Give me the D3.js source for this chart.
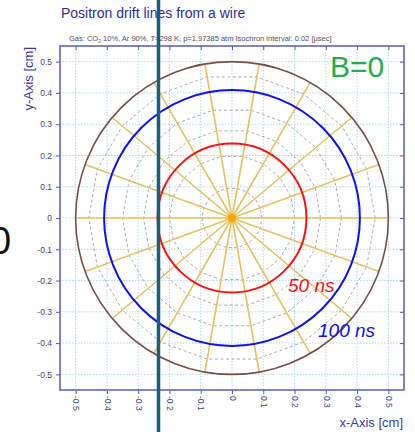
<!DOCTYPE html>
<html lang="en">
<head>
<meta charset="UTF-8">
<title>Positron drift lines from a wire</title>
<script src="https://cdnjs.cloudflare.com/ajax/libs/d3/7.8.5/d3.min.js"></script>
<style>
	body { margin: 0; background: #fff; }
	svg { display: block; font-family: "Liberation Sans", Arial, sans-serif; }
</style>
</head>
<body>
<svg id="viz"></svg>
<script>
// tick values (cm)
const ticks = [-0.5, -0.4, -0.3, -0.2, -0.1, 0, 0.1, 0.2, 0.3, 0.4, 0.5];
// drift line directions (degrees)
const driftAngles = [0, 20, 40, 60, 80, 100, 120, 140, 160, 180, 200, 220, 240, 260, 280, 300, 320, 340];
// isochrons every 20 ns (radius in cm)
const isochronRadii = [0.096, 0.2, 0.283, 0.35, 0.458];
// highlighted isochrons
const markedLabels = ['50 ns', '100 ns'];
const markedRadii = [0.238, 0.409];
const wallRadius = 0.5;

const width = 415, height = 432;
const svg = d3.select('#viz').attr('width', width).attr('height', height);

const x = d3.scaleLinear().domain([-0.55, 0.55]).range([60, 404]);
const y = d3.scaleLinear().domain([-0.55, 0.55]).range([390, 46]);
const k = x(1) - x(0);

const axisColor = '#5a5ab4';
const textColor = '#44447a';

// grid
const grid = svg.append('g');
grid.selectAll('line.gx').data(ticks).join('line')
	.attr('x1', d => x(d)).attr('x2', d => x(d))
	.attr('y1', y(0.55)).attr('y2', y(-0.55))
	.attr('stroke', '#aadbe6').attr('stroke-width', 1).attr('stroke-dasharray', '1.5,1.5');
grid.selectAll('line.gy').data(ticks).join('line')
	.attr('y1', d => y(d)).attr('y2', d => y(d))
	.attr('x1', x(-0.55)).attr('x2', x(0.55))
	.attr('stroke', '#aadbe6').attr('stroke-width', 1).attr('stroke-dasharray', '1.5,1.5');

const cx = x(0), cy = y(0);
const toRad = a => a * Math.PI / 180;

// isochron polygons, vertices on the drift lines
const poly = d3.line().curve(d3.curveLinearClosed);
svg.append('g').selectAll('path').data(isochronRadii).join('path')
	.attr('d', r => poly(driftAngles.map(a => [cx + Math.cos(toRad(a)) * r * k, cy - Math.sin(toRad(a)) * r * k])))
	.attr('fill', 'none').attr('stroke', '#a0a0a8').attr('stroke-width', 0.9).attr('stroke-dasharray', '3,2.5');

// drift lines
svg.append('g').selectAll('line').data(driftAngles).join('line')
	.attr('x1', cx).attr('y1', cy)
	.attr('x2', a => cx + Math.cos(toRad(a)) * wallRadius * k)
	.attr('y2', a => cy - Math.sin(toRad(a)) * wallRadius * k)
	.attr('stroke', '#e6c25c').attr('stroke-width', 1.6);

// wall
svg.append('circle').attr('cx', cx).attr('cy', cy).attr('r', wallRadius * k)
	.attr('fill', 'none').attr('stroke', '#7a4e46').attr('stroke-width', 1.6);

// marked isochrons
const markedColors = ['#ff1010', '#1010f0'];
svg.append('g').selectAll('circle').data(markedRadii).join('circle')
	.attr('cx', cx).attr('cy', cy).attr('r', r => r * k)
	.attr('fill', 'none').attr('stroke', (d, i) => markedColors[i]).attr('stroke-width', 2);

// wire
svg.append('circle').attr('cx', cx).attr('cy', cy).attr('r', 4).attr('fill', '#f5a800');

// labels for isochrons
const labelPos = [[288, 292], [318, 337]];
svg.append('g').selectAll('text').data(markedLabels).join('text')
	.attr('x', (d, i) => labelPos[i][0]).attr('y', (d, i) => labelPos[i][1])
	.attr('font-size', 19).attr('font-style', 'italic')
	.attr('fill', (d, i) => markedColors[i]).text(d => d);

// axes
const fmt = d => String(d);
svg.append('g').attr('transform', `translate(${x(-0.55)},0)`)
	.call(d3.axisLeft(y).tickValues(ticks).tickFormat(fmt).tickSize(4).tickSizeOuter(0))
	.call(g => g.select('.domain').remove())
	.call(g => g.selectAll('line').attr('stroke', axisColor))
	.call(g => g.selectAll('text').attr('fill', textColor).attr('font-size', 8.5).attr('dx', -1));

svg.append('g').attr('transform', `translate(0,${y(-0.55)})`)
	.call(d3.axisBottom(x).tickValues(ticks).tickFormat(fmt).tickSize(4).tickSizeOuter(0))
	.call(g => g.select('.domain').remove())
	.call(g => g.selectAll('line').attr('stroke', axisColor))
	.call(g => g.selectAll('text')
		.attr('fill', textColor).attr('font-size', 8.5)
		.attr('transform', 'rotate(90)').attr('text-anchor', 'start')
		.attr('x', 6).attr('y', 0).attr('dy', '0.32em'));

svg.append('g').attr('transform', `translate(0,${y(0.55)})`)
	.call(d3.axisTop(x).tickValues(ticks).tickFormat('').tickSize(-4).tickSizeOuter(0))
	.call(g => g.select('.domain').remove())
	.call(g => g.selectAll('line').attr('stroke', axisColor));

svg.append('g').attr('transform', `translate(${x(0.55)},0)`)
	.call(d3.axisRight(y).tickValues(ticks).tickFormat('').tickSize(-4).tickSizeOuter(0))
	.call(g => g.select('.domain').remove())
	.call(g => g.selectAll('line').attr('stroke', axisColor));

svg.append('rect')
	.attr('x', x(-0.55)).attr('y', y(0.55))
	.attr('width', x(0.55) - x(-0.55)).attr('height', y(-0.55) - y(0.55))
	.attr('fill', 'none').attr('stroke', axisColor).attr('stroke-width', 1.5);

// titles
svg.append('text').attr('x', 61).attr('y', 18)
	.attr('font-size', 14).attr('fill', '#2e2e98')
	.text('Positron drift lines from a wire');

const sub = svg.append('text').attr('x', 69).attr('y', 41)
	.attr('font-size', 7.5).attr('fill', '#505060');
sub.append('tspan').text('Gas: CO');
sub.append('tspan').attr('font-size', 5).attr('dy', 2).text('2');
sub.append('tspan').attr('dy', -2).text(' 10%, Ar 90%, T=298 K, p=1.97385 atm   Isochron interval: 0.02 [\u03bcsec]');

svg.append('text').attr('transform', `translate(33,47) rotate(-90)`)
	.attr('text-anchor', 'end').attr('font-size', 13).attr('fill', '#3a3aa6')
	.text('y-Axis [cm]');

svg.append('text').attr('x', 403).attr('y', 427)
	.attr('text-anchor', 'end').attr('font-size', 13).attr('fill', '#3a3aa6')
	.text('x-Axis [cm]');

svg.append('text').attr('x', 330).attr('y', 77)
	.attr('font-size', 30).attr('fill', '#1fb04a')
	.text('B=0');

// slide overlay: cut-off digit and vertical line
svg.append('text').attr('x', -10).attr('y', 254)
	.attr('font-size', 38).attr('fill', '#111')
	.text('0');

svg.append('line').attr('x1', 158.5).attr('x2', 158.5).attr('y1', 0).attr('y2', height)
	.attr('stroke', '#1a5f7e').attr('stroke-width', 3.5);
</script>
</body>
</html>
